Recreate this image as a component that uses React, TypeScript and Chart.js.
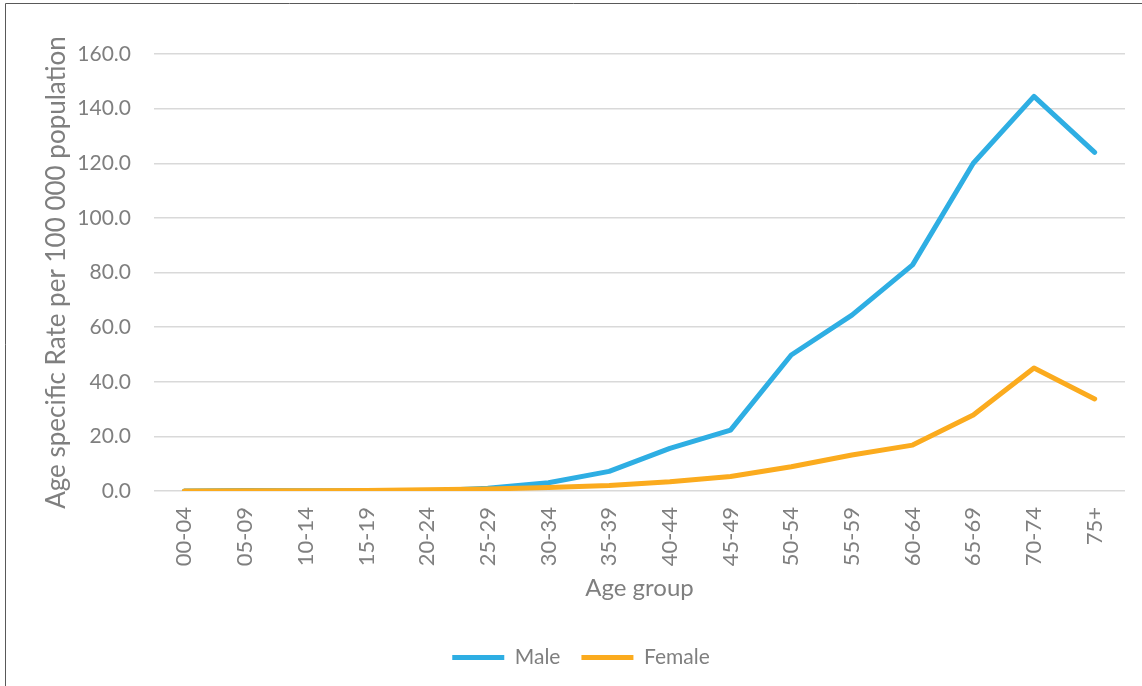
import React, { useEffect, useRef } from "react";
import { Chart, registerables } from "chart.js";

Chart.register(...registerables);

const categories = ["00-04","05-09","10-14","15-19","20-24","25-29","30-34","35-39","40-44","45-49","50-54","55-59","60-64","65-69","70-74","75+"];
const maleValues = [0.0, 0.2, 0.1, 0.1, 0.0, 1.0, 3.0, 7.2, 15.6, 22.3, 49.8, 64.4, 82.8, 120.0, 144.5, 124.0];
const femaleValues = [0.0, 0.1, 0.1, 0.2, 0.5, 0.7, 1.3, 2.0, 3.4, 5.3, 8.9, 13.2, 16.8, 27.8, 45.0, 33.7];
const yTickMax = 160;
const yTickStep = 20;
const yTitle = "Age specific Rate per 100 000 population";
const xTitle = "Age group";

const FONT = "Lato, 'Open Sans', sans-serif";
const TEXT = "#7f7f7f";

const borderPlugin = {
  id: "frameBorder",
  beforeDraw(chart: any) {
    const ctx = chart.ctx;
    ctx.save();
    ctx.fillStyle = "#ffffff";
    ctx.fillRect(0, 0, chart.width, chart.height);
    ctx.strokeStyle = "#595959";
    ctx.lineWidth = 1;
    ctx.beginPath();
    ctx.moveTo(5.5, chart.height);
    ctx.lineTo(5.5, 3.5);
    ctx.lineTo(chart.width, 3.5);
    ctx.stroke();
    ctx.restore();
  },
};

export default function App() {
  const ref = useRef<HTMLCanvasElement | null>(null);
  useEffect(() => {
    if (!ref.current) return;
    const chart = new Chart(ref.current, {
      type: "line",
      data: {
        labels: categories,
        datasets: [
          {
            label: "Male",
            data: maleValues,
            order: 1,
            borderColor: "#2eaee3",
            backgroundColor: "#2eaee3",
            borderWidth: 5,
            pointRadius: 0,
            pointStyle: "line",
            tension: 0,
            borderCapStyle: "round",
            borderJoinStyle: "round",
          },
          {
            label: "Female",
            data: femaleValues,
            order: 0,
            borderColor: "#fbab1e",
            backgroundColor: "#fbab1e",
            borderWidth: 5,
            pointRadius: 0,
            pointStyle: "line",
            tension: 0,
            borderCapStyle: "round",
            borderJoinStyle: "round",
          },
        ],
      },
      options: {
        responsive: false,
        animation: false,
        devicePixelRatio: 1,
        layout: { padding: { top: 54, right: 0, left: 20, bottom: 8 } },
        plugins: {
          legend: {
            position: "bottom",
            labels: {
              usePointStyle: true,
              pointStyleWidth: 52,
              boxHeight: 20,
              padding: 21,
              color: TEXT,
              font: { family: FONT, size: 21 },
              sort: (a: any, b: any) => a.datasetIndex - b.datasetIndex,
            },
          },
          tooltip: { enabled: false },
        },
        scales: {
          x: {
            offset: true,
            grid: { display: false, drawTicks: false },
            border: { display: false },
            ticks: {
              color: TEXT,
              font: { family: FONT, size: 22 },
              minRotation: 90,
              maxRotation: 90,
              padding: 16,
              autoSkip: false,
            },
            title: {
              display: true,
              text: xTitle,
              color: TEXT,
              font: { family: FONT, size: 24 },
              padding: { top: 0, bottom: 23 },
            },
            afterFit(scale: any) {
              scale.height = 135;
            },
          },
          y: {
            min: 0,
            max: yTickMax,
            grid: { color: "#d9d9d9", lineWidth: 1.5, drawTicks: false },
            border: { display: false },
            ticks: {
              stepSize: yTickStep,
              color: TEXT,
              font: { family: FONT, size: 21 },
              padding: 23,
              callback: (v: any) => Number(v).toFixed(1),
            },
            title: {
              display: true,
              text: yTitle,
              color: TEXT,
              font: { family: FONT, size: 26 },
              padding: { top: 21, bottom: 0 },
            },
            afterFit(scale: any) {
              scale.width = 134;
            },
          },
          yRightSpacer: {
            type: "linear",
            position: "right",
            min: 0,
            max: yTickMax,
            grid: { display: false, drawTicks: false },
            border: { display: false },
            ticks: { display: false },
            afterFit(scale: any) {
              scale.width = 17;
            },
          },
        },
      },
      plugins: [borderPlugin],
    });
    return () => chart.destroy();
  }, []);
  return (
    <div style={{ position: "fixed", left: 0, top: 0, width: 1142, height: 686 }}>
      <canvas ref={ref} width={1142} height={686} />
    </div>
  );
}
